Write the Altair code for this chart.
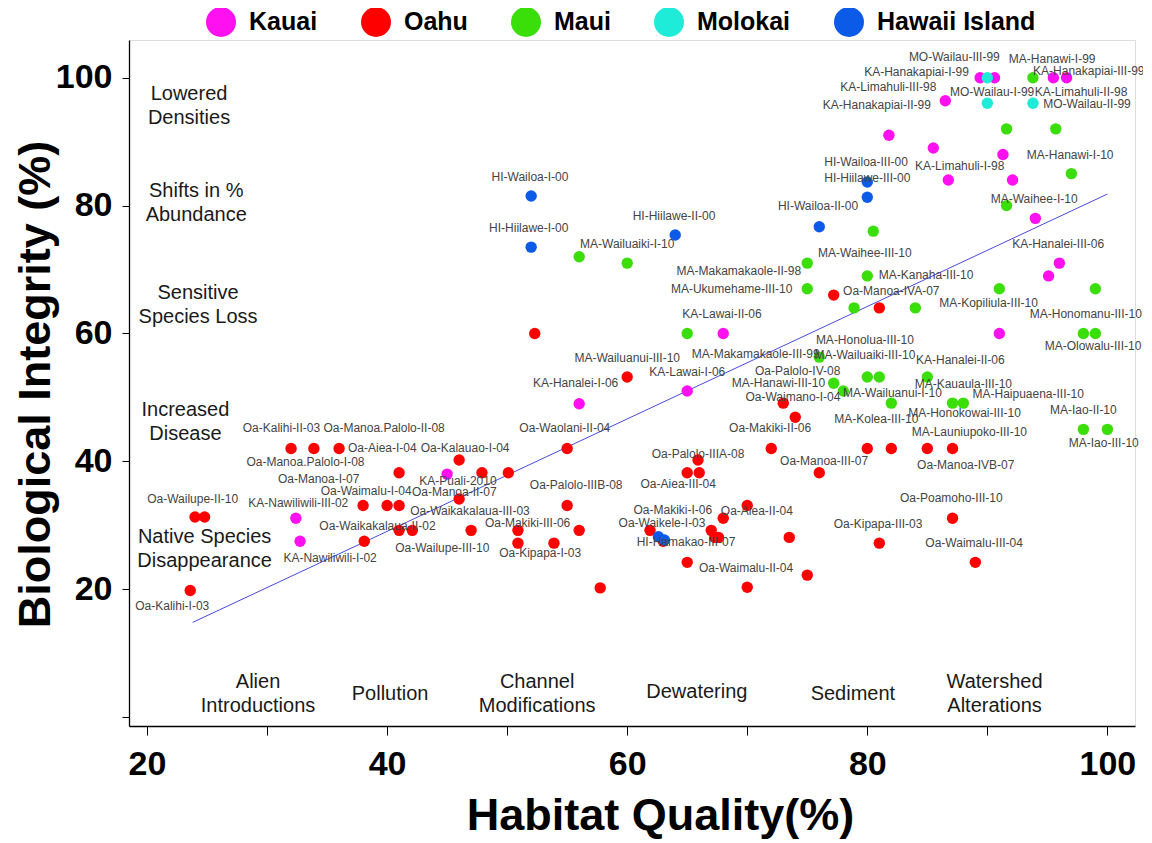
import altair as alt
import pandas as pd

# ---------------- data ----------------
islands = ["Kauai", "Oahu", "Maui", "Molokai", "Hawaii Island"]
island_colors = ["#FF10F0", "#FF0000", "#3ADF0A", "#1EECD8", "#0B5BE8"]

kauai_x = [89.4, 90.6, 95.5, 96.6, 86.5, 81.8, 85.5, 91.3, 86.75, 92.1, 94.0, 96.0, 95.1, 91.0, 68.0, 65.0, 56.0, 45.0, 32.4, 32.75]
kauai_y = [100, 100, 100, 100, 96.4, 91, 89, 88, 84, 84, 78, 71, 69, 60, 60, 51, 49, 38, 31.1, 27.5]

oahu_x = [23.6, 24.0, 24.8, 32.0, 33.9, 36.0, 41.0, 38.0, 40.0, 41.0, 38.1, 41.0, 42.1, 46.0, 47.9, 50.1, 46.0,
          47.0, 50.9, 50.9, 53.9, 56.0, 55.0, 55.0, 52.3, 57.75, 60.0, 65.9, 65.0, 66.0, 61.9, 63.0, 65.0, 67.0,
          67.3, 67.6, 68.0, 70.0, 70.0, 72.0, 73.0, 73.5, 74.0, 75.0, 76.0, 77.2, 80.0, 81.0, 81.0, 82.0, 85.0,
          87.1, 87.1, 89.0]
oahu_y = [19.8, 31.3, 31.3, 42, 42, 42, 38.2, 33.1, 33.1, 33.1, 27.5, 29.2, 29.2, 40.2, 38.2, 38.2, 34.1,
          29.2, 29.2, 27.2, 27.2, 29.2, 33.1, 42, 60, 20.2, 53.2, 40.2, 38.2, 38.2, 29.2, 27.5, 24.2, 29.2,
          28.1, 28.1, 31.1, 33.1, 20.3, 42, 49.1, 28.1, 46.9, 22.2, 38.2, 66, 42, 64, 27.2, 42, 42,
          42, 31.1, 24.2]

maui_x = [93.8, 91.6, 95.7, 97.0, 91.6, 80.5, 56.0, 60.0, 75.0, 80.0, 75.0, 78.9, 84.0, 65.0, 91.0, 99.0,
          98.0, 99.0, 76.0, 80.0, 81.0, 85.0, 77.2, 78.0, 82.0, 87.1, 88.0, 98.0, 100.0]
maui_y = [100, 92, 92, 85, 80, 76, 72, 71, 71, 69, 67, 64, 64, 60, 67, 67,
          60, 60, 56.3, 53.2, 53.2, 53.2, 52.2, 51, 49.1, 49.1, 49.1, 45, 45]

molokai_x = [90.0, 90.0, 93.8]
molokai_y = [100, 96, 96]

hawaii_x = [52.0, 52.0, 64.0, 76.0, 80.0, 80.0, 62.6, 63.1]
hawaii_y = [81.5, 73.5, 75.4, 76.7, 83.7, 81.3, 28.2, 27.7]

site_labels = ["MO-Wailau-III-99", "MA-Hanawi-I-99", "KA-Hanakapiai-I-99", "KA-Hanakapiai-III-99",
               "KA-Limahuli-III-98", "MO-Wailau-I-99", "KA-Limahuli-II-98", "KA-Hanakapiai-II-99",
               "MO-Wailau-II-99", "MA-Hanawi-I-10", "KA-Limahuli-I-98", "HI-Wailoa-III-00",
               "HI-Hiilawe-III-00", "HI-Wailoa-II-00", "MA-Waihee-I-10", "HI-Wailoa-I-00",
               "HI-Hiilawe-I-00", "HI-Hiilawe-II-00", "MA-Wailuaiki-I-10", "MA-Waihee-III-10",
               "KA-Hanalei-III-06", "MA-Makamakaole-II-98", "MA-Kanaha-III-10", "MA-Ukumehame-III-10",
               "Oa-Manoa-IVA-07", "MA-Kopiliula-III-10", "MA-Honomanu-III-10", "KA-Lawai-II-06",
               "MA-Olowalu-III-10", "MA-Honolua-III-10", "MA-Wailuanui-III-10", "MA-Makamakaole-III-99",
               "MA-Wailuaiki-III-10", "KA-Hanalei-II-06", "Oa-Palolo-IV-08", "KA-Lawai-I-06",
               "KA-Hanalei-I-06", "MA-Hanawi-III-10", "MA-Kauaula-III-10", "Oa-Waimano-I-04",
               "MA-Wailuanui-I-10", "MA-Haipuaena-III-10", "MA-Honokowai-III-10", "MA-Iao-II-10",
               "MA-Kolea-III-10", "Oa-Makiki-II-06", "Oa-Waolani-II-04", "MA-Launiupoko-III-10",
               "MA-Iao-III-10", "Oa-Palolo-IIIA-08", "Oa-Manoa-III-07", "Oa-Manoa-IVB-07",
               "Oa-Aiea-III-04", "Oa-Palolo-IIIB-08", "Oa-Poamoho-III-10", "Oa-Makiki-I-06",
               "Oa-Aiea-II-04", "Oa-Waikele-I-03", "Oa-Kipapa-III-03", "HI-Hamakao-III-07",
               "Oa-Waimalu-III-04", "Oa-Waimalu-II-04", "Oa-Kalihi-II-03", "Oa-Manoa.Palolo-II-08",
               "Oa-Aiea-I-04", "Oa-Kalauao-I-04", "Oa-Manoa.Palolo-I-08", "Oa-Manoa-I-07",
               "KA-Puali-2010", "Oa-Waimalu-I-04", "Oa-Manoa-II-07", "Oa-Wailupe-II-10",
               "KA-Nawiliwili-III-02", "Oa-Waikakalaua-III-03", "Oa-Makiki-III-06", "Oa-Waikakalaua-II-02",
               "Oa-Wailupe-III-10", "Oa-Kipapa-I-03", "KA-Nawiliwili-I-02", "Oa-Kalihi-I-03"]
site_label_x = [87.25, 95.4, 84.1, 98.45, 81.75, 90.4, 97.8, 80.8, 98.3, 96.9, 87.7, 79.9, 80.0, 75.9, 93.9,
                51.9, 51.8, 63.9, 60.0, 79.8, 95.9, 69.3, 84.9, 68.7, 82.0, 90.1, 98.2, 67.9, 98.8, 79.8,
                60.0, 70.7, 79.8, 87.75, 74.2, 65.0, 55.7, 72.6, 88.0, 73.8, 82.1, 93.4, 88.1, 98.0, 80.75,
                71.9, 54.8, 88.5, 99.7, 65.9, 76.4, 88.2, 64.25, 55.75, 87.0, 63.8, 70.8, 62.9, 80.9, 64.9,
                88.9, 69.9, 31.2, 39.75, 39.6, 46.5, 33.2, 34.3, 45.9, 38.25, 45.6, 23.8, 32.6, 46.9, 51.7,
                39.2, 44.6, 52.75, 35.25, 22.1]
site_label_y = [103.3, 102.9, 100.9, 101.1, 98.6, 97.8, 97.8, 95.7, 95.9, 87.9, 86.2, 86.8, 84.3, 79.9, 81.0,
                84.5, 76.5, 78.4, 74.0, 72.6, 74.0, 69.8, 69.1, 66.9, 66.6, 64.8, 63.0, 63.0, 58.0, 59.0,
                56.2, 56.8, 56.6, 55.8, 54.1, 54.0, 52.2, 52.2, 52.1, 50.0, 50.7, 50.5, 47.5, 48.0, 46.6,
                45.2, 45.2, 44.6, 42.8, 41.1, 40.0, 39.4, 36.4, 36.3, 34.2, 32.4, 32.2, 30.3, 30.2, 27.4,
                27.2, 23.3, 45.2, 45.2, 42.1, 42.1, 39.9, 37.2, 36.9, 35.3, 35.2, 34.1, 33.5, 32.2, 30.3,
                29.9, 26.4, 25.6, 24.9, 17.3]

fit_x = [23.8, 100.0]
fit_y = [14.8, 81.8]

# annotation texts, anchored at the centre of their first line
note_text = ["Lowered\nDensities", "Shifts in %\nAbundance", "Sensitive\nSpecies Loss",
             "Increased\nDisease", "Native Species\nDisappearance", "Alien\nIntroductions",
             "Pollution", "Channel\nModifications", "Dewatering", "Sediment", "Watershed\nAlterations"]
note_x = [23.5, 24.1, 24.25, 23.2, 24.8, 29.25, 40.25, 52.5, 65.8, 78.8, 90.6]
note_y = [97.5, 82.3, 66.3, 48.0, 28.1, 5.45, 3.6, 5.45, 3.9, 3.6, 5.45]

y_ticks = [0, 20, 40, 60, 80, 100]
x_ticks = [20, 30, 40, 50, 60, 70, 80, 90, 100]

# ---------------- tables ----------------
rows = []
for name, xs, ys in [("Oahu", oahu_x, oahu_y), ("Maui", maui_x, maui_y), ("Kauai", kauai_x, kauai_y),
                     ("Molokai", molokai_x, molokai_y), ("Hawaii Island", hawaii_x, hawaii_y)]:
    for xv, yv in zip(xs, ys):
        rows.append({"island": name, "hq": xv, "bi": yv})
pts = pd.DataFrame(rows)
lab = pd.DataFrame({"t": site_labels, "hq": site_label_x, "bi": site_label_y})
fit = pd.DataFrame({"hq": fit_x, "bi": fit_y})
notes = pd.DataFrame({"t": note_text, "hq": note_x, "bi": note_y})

FONT = "Liberation Sans"
xscale = alt.Scale(domain=[18.5, 102.3], nice=False, zero=False)
yscale = alt.Scale(domain=[-1.4, 105.9], nice=False, zero=False)

x_axis = alt.Axis(values=x_ticks, labelExpr="datum.value % 20 === 0 ? datum.label : ''",
                  grid=False, tickSize=9, tickColor="black", domainColor="black", domainWidth=1.3,
                  labelFont=FONT, labelFontSize=34, labelFontWeight="bold", labelColor="black",
                  labelPadding=12, titleFont=FONT, titleFontSize=45, titleFontWeight="bold",
                  titleColor="black", titleX=531, titleY=89, titleBaseline="middle", titleAlign="center")
y_axis = alt.Axis(values=y_ticks, labelExpr="datum.value === 0 ? '' : datum.label",
                  grid=False, tickSize=7, tickColor="black", domainColor="black", domainWidth=1.3,
                  labelFont=FONT, labelFontSize=34, labelFontWeight="bold", labelColor="black",
                  labelPadding=10, titleFont=FONT, titleFontSize=45, titleFontWeight="bold",
                  titleColor="black", titleX=-94, titleY=344, titleAngle=270,
                  titleBaseline="middle", titleAlign="center")

points = alt.Chart(pts).mark_circle(size=130, opacity=1).encode(
    x=alt.X("hq:Q", scale=xscale, axis=x_axis, title="Habitat Quality(%)"),
    y=alt.Y("bi:Q", scale=yscale, axis=y_axis, title="Biological Integrity  (%)"),
    color=alt.Color("island:N", scale=alt.Scale(domain=islands, range=island_colors),
                    legend=alt.Legend(orient="none", legendX=77, legendY=-33, direction="horizontal",
                                      title=None, symbolType="circle", symbolSize=900,
                                      symbolStrokeWidth=0, symbolOpacity=1, labelFont=FONT,
                                      labelFontSize=25, labelFontWeight="bold", labelColor="black",
                                      labelOffset=13, columnPadding=43, padding=0, labelLimit=400)),
)

fit_line = alt.Chart(fit).mark_line(color="#4a4ae0", strokeWidth=1).encode(
    x=alt.X("hq:Q", scale=xscale), y=alt.Y("bi:Q", scale=yscale))

labels = alt.Chart(lab).mark_text(font=FONT, fontSize=12, color="#444444", align="center",
                                  baseline="middle").encode(
    x=alt.X("hq:Q", scale=xscale), y=alt.Y("bi:Q", scale=yscale), text="t:N")

note_marks = alt.Chart(notes).mark_text(font=FONT, fontSize=20, color="#1a1a1a", align="center",
                                        baseline="middle", lineBreak="\n", lineHeight=24).encode(
    x=alt.X("hq:Q", scale=xscale), y=alt.Y("bi:Q", scale=yscale), text="t:N")

chart = alt.layer(fit_line, points, labels, note_marks).properties(
    width=1006, height=686,
    autosize=alt.AutoSizeParams(type="none"),
    padding={"left": 121, "top": 32, "right": 8, "bottom": 116},
).configure_view(stroke=None).configure(background="white")

chart.save("out.html", embed_options={"renderer": "svg", "actions": False})
